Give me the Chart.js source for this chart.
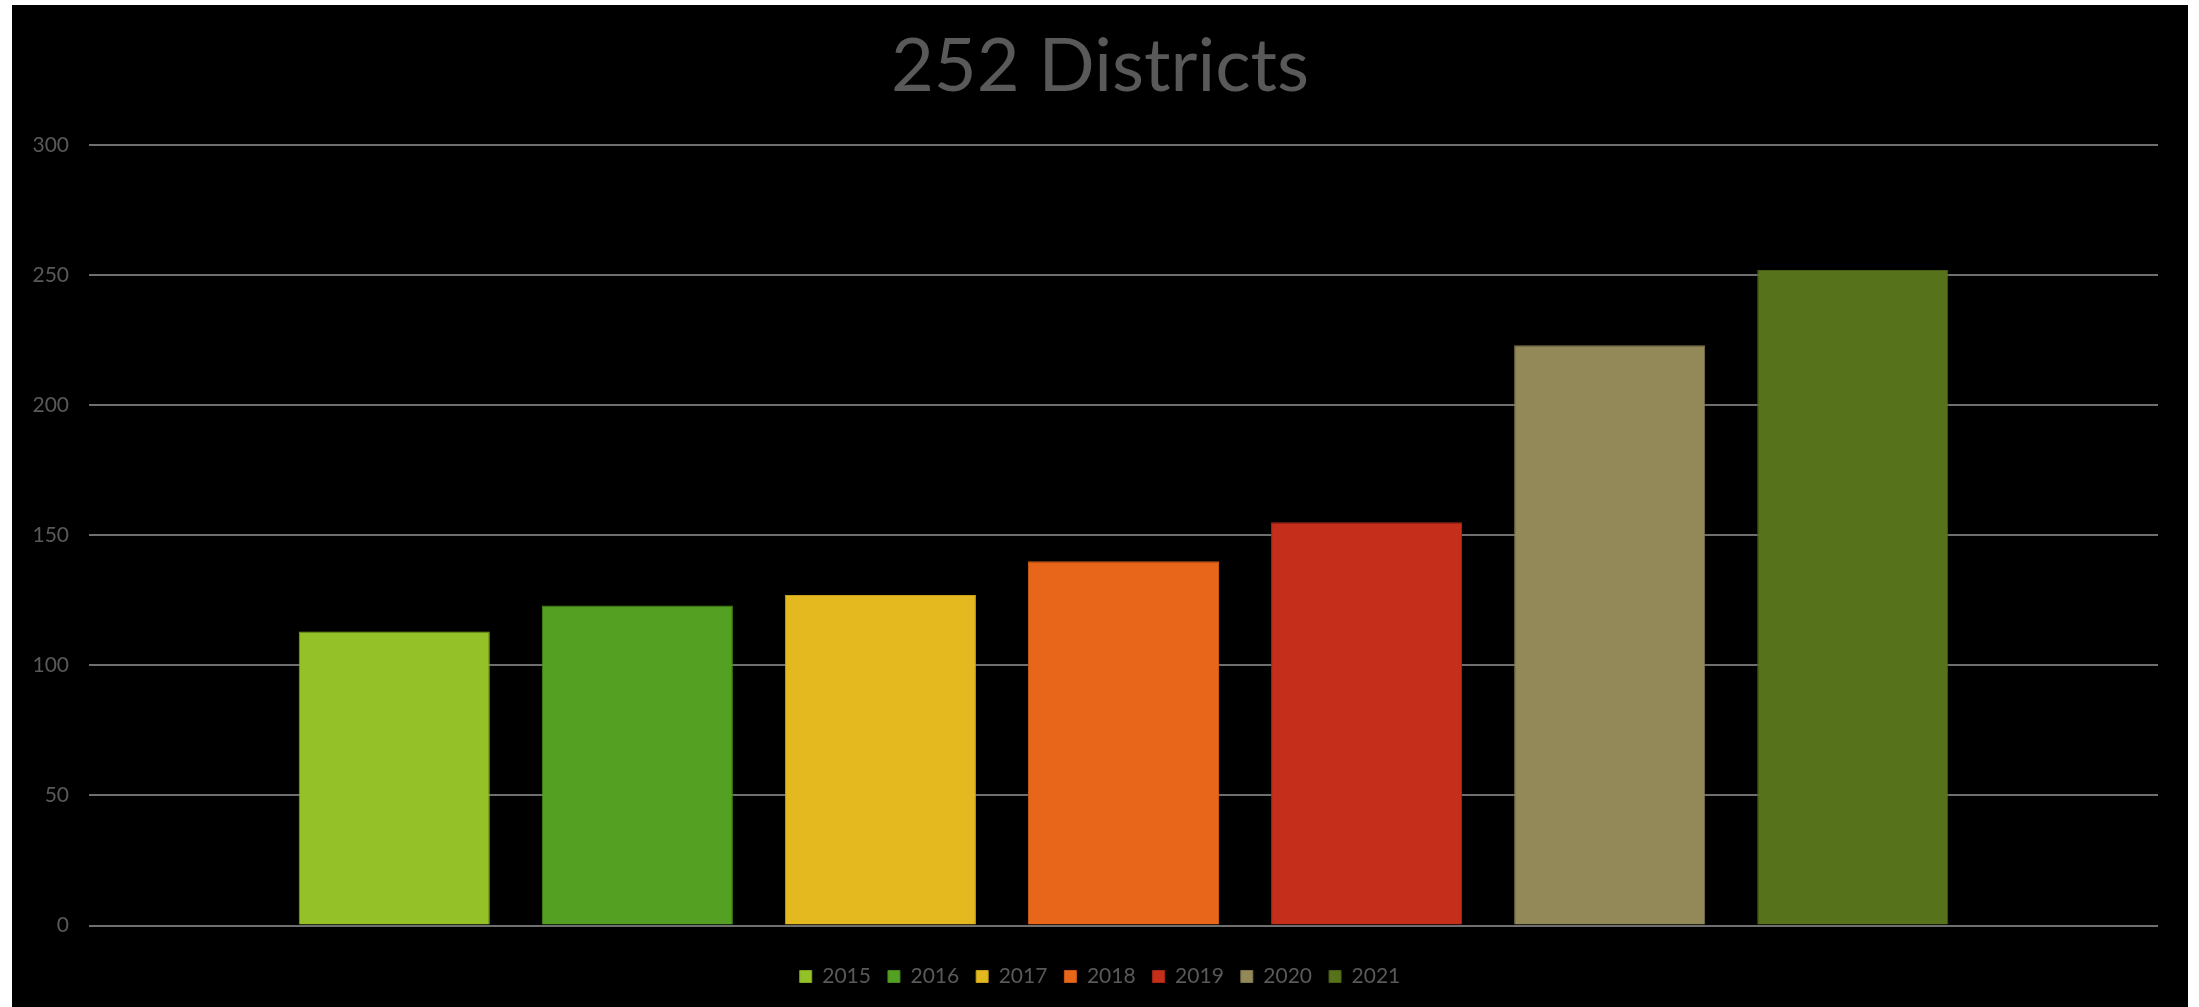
<!DOCTYPE html>
<html>
<head>
<meta charset="utf-8">
<script src="https://cdn.jsdelivr.net/npm/chart.js@4.4.0/dist/chart.umd.min.js"></script>
<style>
  html, body { margin: 0; padding: 0; background: #ffffff; }
  #wrap { position: absolute; left: 12px; top: 5px; width: 2176px; height: 1002px; background: #000000; }
  canvas { display: block; }
</style>
</head>
<body>
<div id="wrap"><canvas id="c" width="2176" height="1002"></canvas></div>
<script>
const titleText = '252 Districts';
const years = ['2015', '2016', '2017', '2018', '2019', '2020', '2021'];
const districts = [113, 123, 127, 140, 155, 223, 252];
const barColors = ['#93C127', '#54A022', '#E4B81F', '#E76619', '#C42E1A', '#938858', '#56721A'];
const edgeColors = ['#7FA820', '#478A1C', '#C79F1A', '#C95815', '#A82716', '#7E7549', '#495F15'];
const yTicks = [0, 50, 100, 150, 200, 250, 300];

const FONT = 'Lato, "Open Sans", "DejaVu Sans", sans-serif';
const TEXT = '#595959';

const datasets = years.map((y, i) => ({
  label: y,
  data: [districts[i]],
  backgroundColor: barColors[i],
  borderColor: edgeColors[i],
  borderWidth: 1,
  categoryPercentage: 0.8224,
  barPercentage: 0.786
}));

new Chart(document.getElementById('c'), {
  type: 'bar',
  data: { labels: [''], datasets },
  options: {
    responsive: false,
    animation: false,
    devicePixelRatio: 1,
    layout: { padding: { left: 0, right: 0, top: 0, bottom: 10 } },
    plugins: {
      title: {
        display: true,
        text: titleText,
        color: TEXT,
        font: { family: FONT, size: 74, weight: 'normal' },
        padding: { top: 17.6, bottom: 33.6 }
      },
      legend: {
        display: true,
        position: 'bottom',
        labels: {
          color: TEXT,
          font: { family: FONT, size: 21 },
          boxWidth: 12,
          boxHeight: 12,
          padding: 17
        }
      },
      tooltip: { enabled: false }
    },
    scales: {
      x: {
        display: true,
        ticks: { display: false },
        grid: { display: false },
        border: { display: false },
        afterFit: (s) => { s.height = 23.5; }
      },
      y: {
        min: yTicks[0],
        max: yTicks[yTicks.length - 1],
        afterBuildTicks: (s) => { s.ticks = yTicks.map(v => ({ value: v })); },
        ticks: {
          color: TEXT,
          font: { family: FONT, size: 21 },
          padding: 20
        },
        grid: { color: '#6f6f6f', lineWidth: 2, drawTicks: false },
        border: { display: false },
        afterFit: (s) => { s.width = 77; }
      },
      yR: {
        position: 'right',
        display: true,
        ticks: { display: false },
        grid: { display: false },
        border: { display: false },
        afterFit: (s) => { s.width = 30; }
      }
    }
  }
});
</script>
</body>
</html>
